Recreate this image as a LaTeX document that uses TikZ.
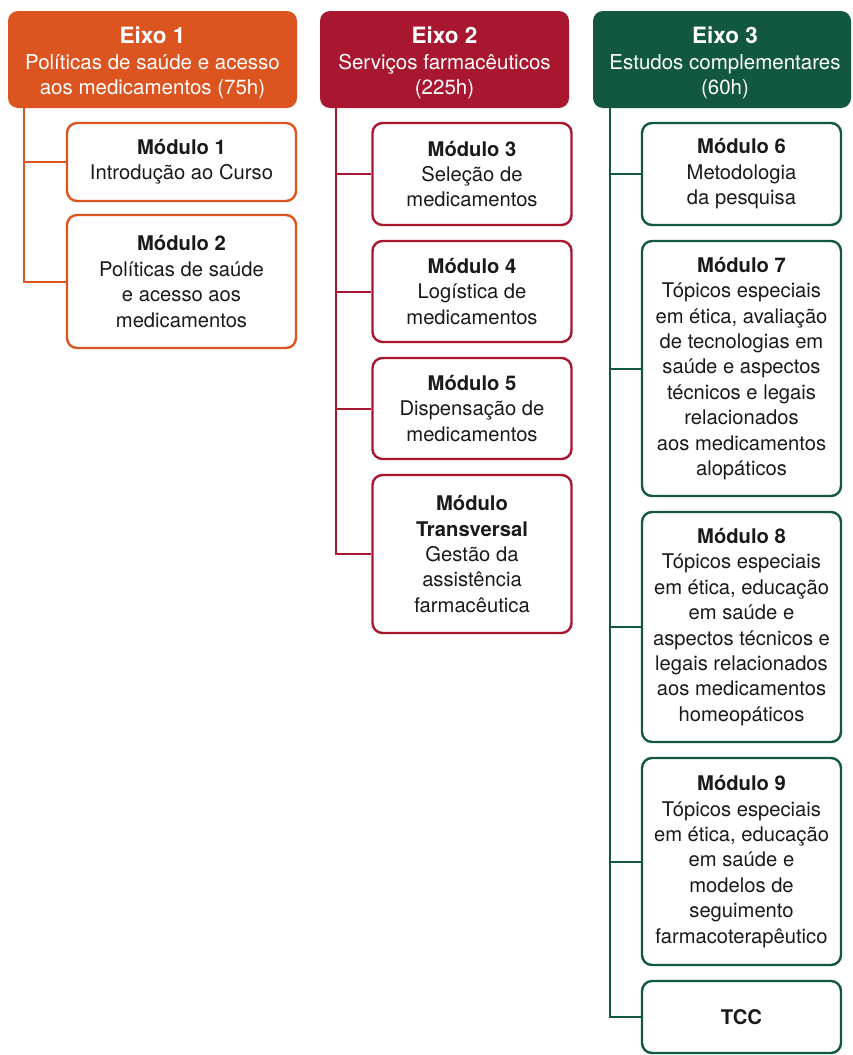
\documentclass[tikz,border=0pt]{standalone}
\usepackage{fontspec}
\setmainfont{TeX Gyre Heros}
\definecolor{eorange}{HTML}{DC5420}
\definecolor{ered}{HTML}{A8172F}
\definecolor{egreen}{HTML}{12573F}
\definecolor{txt}{HTML}{1A1A1A}
\tikzset{
  header/.style={fill=#1, draw=none, rounded corners=10pt, text=white, align=center,
    font=\fontsize{20.5}{25.7}\selectfont, inner sep=0pt},
  modbox/.style={draw=#1, line width=2.4pt, fill=white, rounded corners=10pt, text=txt, align=center,
    font=\fontsize{20.2}{25.4}\selectfont, inner sep=0pt},
  conn/.style={draw=#1, line width=2pt},
}
\newcommand{\hd}[1]{{\fontsize{22.5}{25.7}\selectfont\bfseries #1}}
\newcommand{\md}[1]{\textbf{#1}}
\begin{document}
\begin{tikzpicture}[x=1pt,y=-1pt]
\useasboundingbox (0,0) rectangle (852,1055);
% headers
\node[header=eorange, minimum width=289pt, minimum height=97pt] (e1) at (152.5,59.5) {};
\node[text=white, align=center, font=\fontsize{20.5}{25.7}\selectfont] (t1) at (152.5,63)
  {\hd{Eixo 1}\\Políticas de saúde e acesso\\aos medicamentos (75h)};
\node[header=ered, minimum width=249pt, minimum height=97pt] (e2) at (444.5,59.5) {};
\node[text=white, align=center, font=\fontsize{20.5}{25.7}\selectfont] (t2) at (444.5,63)
  {\hd{Eixo 2}\\Serviços farmacêuticos\\(225h)};
\node[header=egreen, minimum width=258pt, minimum height=97pt] (e3) at (722,59.5) {};
\node[text=white, align=center, font=\fontsize{20.5}{25.7}\selectfont] (t3) at (725,63)
  {\hd{Eixo 3}\\Estudos complementares\\(60h)};
% connector anchors
\coordinate (e1a) at (24,107);
\coordinate (e2a) at (336,107);
\coordinate (e3a) at (610,107);
% Eixo 1 modules
\node[modbox=eorange, minimum width=229pt, minimum height=78pt] (m1) at (181.5,162)
  {\md{Módulo 1}\\Introdução ao Curso};
\node[modbox=eorange, minimum width=229pt, minimum height=133pt] (m2) at (181.5,281.5)
  {\md{Módulo 2}\\Políticas de saúde\\e acesso aos\\medicamentos};
% Eixo 2 modules
\node[modbox=ered, minimum width=199pt, minimum height=102pt] (m3) at (472,174)
  {\md{Módulo 3}\\Seleção de\\medicamentos};
\node[modbox=ered, minimum width=199pt, minimum height=101pt] (m4) at (472,291.5)
  {\md{Módulo 4}\\Logística de\\medicamentos};
\node[modbox=ered, minimum width=199pt, minimum height=101pt] (m5) at (472,408.5)
  {\md{Módulo 5}\\Dispensação de\\medicamentos};
\node[modbox=ered, minimum width=199pt, minimum height=158pt] (mt) at (472,554)
  {\md{Módulo}\\\md{Transversal}\\Gestão da\\assistência\\farmacêutica};
% Eixo 3 modules
\node[modbox=egreen, minimum width=199pt, minimum height=102pt] (m6) at (741.5,174)
  {\md{Módulo 6}\\Metodologia\\da pesquisa};
\node[modbox=egreen, minimum width=199pt, minimum height=255pt] (m7) at (741.5,368.5)
  {\md{Módulo 7}\\Tópicos especiais\\em ética, avaliação\\de tecnologias em\\saúde e aspectos\\técnicos e legais\\relacionados\\aos medicamentos\\alopáticos};
\node[modbox=egreen, minimum width=199pt, minimum height=230pt] (m8) at (741.5,627)
  {\md{Módulo 8}\\Tópicos especiais\\em ética, educação\\em saúde e\\aspectos técnicos e\\legais relacionados\\aos medicamentos\\homeopáticos};
\node[modbox=egreen, minimum width=199pt, minimum height=207pt] (m9) at (741.5,861.5)
  {\md{Módulo 9}\\Tópicos especiais\\em ética, educação\\em saúde e\\modelos de\\seguimento\\farmacoterapêutico};
\node[modbox=egreen, minimum width=199pt, minimum height=72pt] (tcc) at (741.5,1017)
  {\md{TCC}};
% connectors
\draw[conn=eorange] (e1a) |- (m1.west);
\draw[conn=eorange] (e1a) |- (m2.west);
\draw[conn=ered] (e2a) |- (m3.west);
\draw[conn=ered] (e2a) |- (m4.west);
\draw[conn=ered] (e2a) |- (m5.west);
\draw[conn=ered] (e2a) |- (mt.west);
\draw[conn=egreen] (e3a) |- (m6.west);
\draw[conn=egreen] (e3a) |- (m7.west);
\draw[conn=egreen] (e3a) |- (m8.west);
\draw[conn=egreen] (e3a) |- (m9.west);
\draw[conn=egreen] (e3a) |- (tcc.west);
\end{tikzpicture}
\end{document}
